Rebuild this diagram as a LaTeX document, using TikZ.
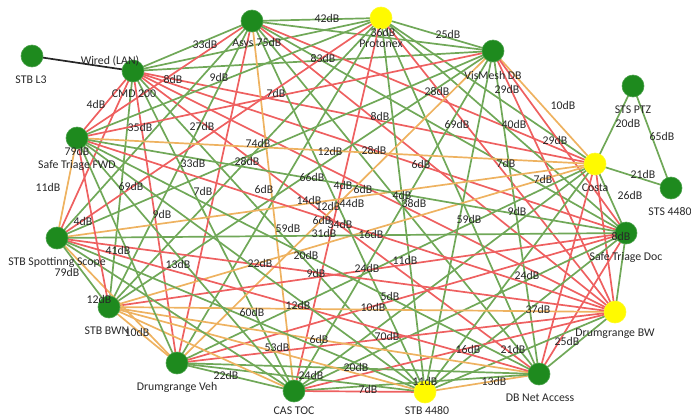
\documentclass[tikz,border=0pt]{standalone}
\usepackage{fontspec}
\setmainfont{Carlito}
\definecolor{eg}{RGB}{112,168,88}
\definecolor{er}{RGB}{238,96,96}
\definecolor{eo}{RGB}{238,178,96}
\definecolor{ng}{RGB}{30,138,30}
\definecolor{ny}{RGB}{255,250,0}
\definecolor{tx}{RGB}{40,40,40}
\tikzset{
  gE/.style={draw=eg,line width=1.7pt},
  rE/.style={draw=er,line width=1.7pt},
  oE/.style={draw=eo,line width=1.7pt},
  wire/.style={draw=black!85,line width=1.7pt},
  gnode/.style={circle,fill=ng,draw=ng!80!white,line width=0.6pt,minimum size=22pt,inner sep=0pt},
  ynode/.style={circle,fill=ny,draw=ny!85!white,line width=0.6pt,minimum size=22pt,inner sep=0pt},
  lbl/.style={text=tx,font=\fontsize{11.8pt}{13pt}\selectfont,inner sep=0pt}
}
\begin{document}
\begin{tikzpicture}[x=1pt,y=-1pt]
\useasboundingbox (0,0) rectangle (691,418);
% positions
\coordinate (P) at (32,56);    % STB L3
\coordinate (A) at (133,71);   % CMD 200
\coordinate (B) at (252,21);   % Asys
\coordinate (C) at (381,18);   % Protonex
\coordinate (D) at (493,51);   % VisMesh DB
\coordinate (Q) at (633,86);   % STS PTZ
\coordinate (E) at (595,164);  % Costa
\coordinate (R) at (671,188);  % STS 4480
\coordinate (F) at (626,233);  % Safe Triage Doc
\coordinate (G) at (615,312);  % Drumgrange BW
\coordinate (H) at (539,374);  % DB Net Access
\coordinate (I) at (425,392);  % STB 4480
\coordinate (J) at (294,391);  % CAS TOC
\coordinate (K) at (177,363);  % Drumgrange Veh
\coordinate (L) at (109,307);  % STB BWN
\coordinate (M) at (57,238);   % STB Spotting Scope
\coordinate (N) at (77,138);   % Safe Triage FWD
% edges
\foreach \a/\b/\c in {
 A/B/gE,A/C/gE,A/D/gE,A/E/rE,A/F/rE,A/G/rE,A/H/rE,A/I/gE,A/J/gE,A/K/rE,A/L/gE,A/M/rE,A/N/rE,
 B/C/gE,B/D/gE,B/E/rE,B/F/gE,B/G/rE,B/H/gE,B/I/gE,B/J/oE,B/K/rE,B/L/gE,B/M/gE,B/N/rE,
 C/D/gE,C/E/gE,C/F/gE,C/G/rE,C/H/gE,C/I/gE,C/J/rE,C/K/gE,C/L/gE,C/M/rE,C/N/gE,
 D/E/oE,D/F/rE,D/G/rE,D/H/gE,D/I/gE,D/J/gE,D/K/oE,D/L/gE,D/M/gE,D/N/rE,
 E/F/gE,E/G/rE,E/H/rE,E/I/gE,E/J/gE,E/K/gE,E/L/oE,E/M/oE,E/N/oE,E/Q/gE,E/R/gE,Q/R/gE,
 F/G/gE,F/H/rE,F/I/gE,F/J/gE,F/K/rE,F/L/rE,F/M/gE,F/N/gE,
 G/H/gE,G/I/gE,G/J/rE,G/K/rE,G/L/oE,G/M/rE,G/N/rE,
 H/I/oE,H/J/gE,H/K/gE,H/L/oE,H/M/rE,H/N/gE,
 I/J/rE,I/K/gE,I/L/oE,I/M/gE,I/N/gE,
 J/K/gE,J/L/oE,J/M/gE,J/N/gE,
 K/L/oE,K/M/oE,K/N/gE,
 L/M/gE,L/N/rE,
 M/N/oE}
 \draw[\c] (\a) -- (\b);
\draw[wire] (P) -- (A);
% nodes
\node[gnode] (nP) at (P) {};
\node[gnode] (nA) at (A) {};
\node[gnode] (nB) at (B) {};
\node[ynode] (nC) at (C) {};
\node[gnode] (nD) at (D) {};
\node[gnode] (nQ) at (Q) {};
\node[ynode] (nE) at (E) {};
\node[gnode] (nR) at (R) {};
\node[gnode] (nF) at (F) {};
\node[ynode] (nG) at (G) {};
\node[gnode] (nH) at (H) {};
\node[ynode] (nI) at (I) {};
\node[gnode] (nJ) at (J) {};
\node[gnode] (nK) at (K) {};
\node[gnode] (nL) at (L) {};
\node[gnode] (nM) at (M) {};
\node[gnode] (nN) at (N) {};
% node names
\node[lbl] (tP) at (31,80) {STB L3};
\node[lbl] (tA) at (134,94) {CMD 200};
\node[lbl] (tW) at (110,61) {Wired (LAN)};
\node[lbl] (tB) at (243,44) {Asys};
\node[lbl] (tC) at (381,44) {Protonex};
\node[lbl] (tD) at (493,75) {VisMesh DB};
\node[lbl] (tQ) at (633,110) {STS PTZ};
\node[lbl] (tE) at (595,188) {Costa};
\node[lbl] (tR) at (670,212) {STS 4480};
\node[lbl] (tF) at (626,257) {Safe Triage Doc};
\node[lbl] (tG) at (615,334) {Drumgrange BW};
\node[lbl] (tH) at (540,398) {DB Net Access};
\node[lbl] (tI) at (427,411) {STB 4480};
\node[lbl] (tJ) at (294,411) {CAS TOC};
\node[lbl] (tK) at (177,387) {Drumgrange Veh};
\node[lbl] (tL) at (107,331) {STB BWN};
\node[lbl] (tM) at (57,262) {STB Spottinng Scope};
\node[lbl] (tN) at (77,165) {Safe Triage FWD};
% dB labels
\foreach \x/\y/\t [count=\i] in {
 205/44/33dB, 269/42/75dB, 327/18/42dB, 383/32/36dB, 448/34/25dB, 323/58/83dB,
 173/79/8dB, 219/77/9dB, 276/93/7dB, 437/91/28dB, 507/89/29dB, 380/116/8dB,
 457/124/69dB, 514/124/40dB, 563/105/10dB, 628/123/20dB, 662/136/65dB, 555/140/29dB,
 96/104/4dB, 140/127/35dB, 202/126/27dB, 258/143/74dB, 330/151/12dB, 374/150/28dB,
 77/151/79dB, 193/163/33dB, 247/161/28dB, 421/164/6dB, 506/163/7dB, 643/174/21dB,
 543/179/7dB, 630/195/26dB, 312/177/66dB, 343/185/4dB, 363/189/6dB, 402/195/4dB,
 414/203/38dB, 264/189/6dB, 203/191/7dB, 48/187/11dB, 131/186/69dB, 309/200/14dB,
 328/206/12dB, 352/203/44dB, 162/214/9dB, 517/211/9dB, 469/219/59dB, 83/221/4dB,
 322/220/6dB, 340/224/34dB, 288/228/59dB, 324/233/31dB, 371/234/16dB, 621/236/8dB,
 118/250/41dB, 67/272/79dB, 178/264/13dB, 260/263/22dB, 306/255/20dB, 316/273/9dB,
 367/268/24dB, 405/260/11dB, 527/275/24dB, 99/299/12dB, 137/332/10dB, 298/305/12dB,
 252/312/60dB, 390/296/5dB, 373/307/10dB, 538/309/37dB, 319/339/6dB, 387/336/70dB,
 277/347/53dB, 468/349/16dB, 513/349/21dB, 567/341/25dB, 356/367/20dB, 311/375/24dB,
 226/375/22dB, 368/389/7dB, 425/381/11dB, 494/381/13dB}
 \node[lbl] (d\i) at (\x,\y) {\t};
\end{tikzpicture}
\end{document}
